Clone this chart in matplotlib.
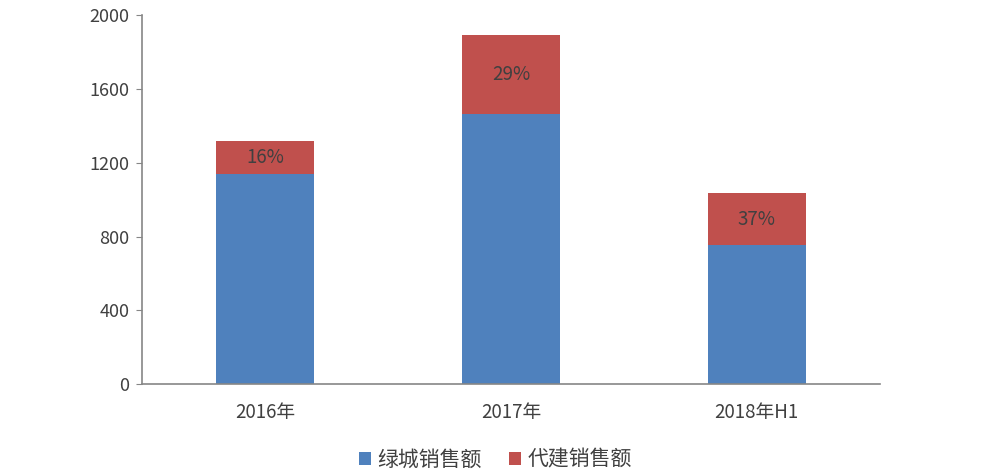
import matplotlib.pyplot as plt

plt.rcParams['font.family'] = ['Noto Sans CJK SC', 'DejaVu Sans']

categories = ['2016年', '2017年', '2018年H1']
greentown_sales = [1138, 1462, 752]
agent_sales = [179, 431, 282]
share_labels = ['16%', '29%', '37%']

blue = '#4f81bd'
red = '#c0504d'
text_c = '#404040'
axis_c = '#868686'

fig = plt.figure(figsize=(9.81, 4.73), dpi=100)
ax = fig.add_axes([0.1448, 0.188, 0.752, 0.780])

x = range(len(categories))
ax.bar(x, greentown_sales, width=0.4, color=blue, label='绿城销售额')
ax.bar(x, agent_sales, width=0.4, bottom=greentown_sales, color=red, label='代建销售额')

for i, lab in enumerate(share_labels):
    ax.text(i, greentown_sales[i] + agent_sales[i] / 2, lab, ha='center', va='center',
            fontsize=13.5, color=text_c)

ax.set_xlim(-0.5, 2.5)
ax.set_ylim(0, 2000)
ax.set_yticks([0, 400, 800, 1200, 1600, 2000])
ax.set_xticks(list(x))
ax.set_xticklabels(categories)

for s in ['top', 'right']:
    ax.spines[s].set_visible(False)
for s in ['left', 'bottom']:
    ax.spines[s].set_color(axis_c)
    ax.spines[s].set_linewidth(1.2)
ax.tick_params(axis='y', direction='out', length=4, color=axis_c, labelsize=13,
               labelcolor=text_c, pad=5)
ax.tick_params(axis='x', length=0, labelsize=13.5, labelcolor=text_c, pad=13)

ax.legend(loc='upper center', bbox_to_anchor=(0.479, -0.125), ncol=2, frameon=False,
          fontsize=15, handlelength=0.6, handleheight=0.6, handletextpad=0.3,
          columnspacing=1.3, labelcolor=text_c)

fig.savefig('out.png', dpi=100)
